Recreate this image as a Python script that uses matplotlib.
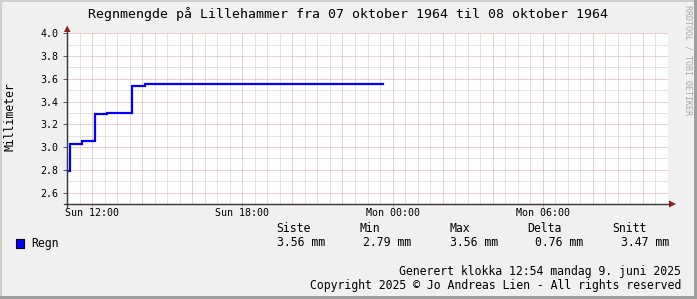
import matplotlib
matplotlib.use("Agg")
import matplotlib.pyplot as plt
from matplotlib.patches import Rectangle, Polygon
import numpy as np

# ---- data ----
times_h = [11.0, 11.1, 11.6, 12.1, 12.6, 13.6, 14.1, 23.6]   # hours after Sun 00:00
rain_mm = [2.79, 3.03, 3.05, 3.29, 3.30, 3.54, 3.555, 3.555]
xtick_hours = [12, 18, 24, 30]
xtick_labels = ["Sun 12:00", "Sun 18:00", "Mon 00:00", "Mon 06:00"]
ytick_values = [2.6, 2.8, 3.0, 3.2, 3.4, 3.6, 3.8, 4.0]
legend_headers = ["Siste", "Min", "Max", "Delta", "Snitt"]
legend_values = ["3.56 mm", "2.79 mm", "3.56 mm", "0.76 mm", "3.47 mm"]
title = "Regnmengde på Lillehammer fra 07 oktober 1964 til 08 oktober 1964"
footer1 = "Generert klokka 12:54 mandag 9. juni 2025"
footer2 = "Copyright 2025 © Jo Andreas Lien - All rights reserved"

W, H = 697, 299
fig = plt.figure(figsize=(W / 100, H / 100), dpi=100)
fig.patch.set_facecolor("#f0f0f0")
MONO = "DejaVu Sans Mono"

def fx(x):
    return x / W

def fy(y):
    return 1 - y / H

# borders
fig.patches.append(Rectangle((fx(0), fy(2)), 1, 2 / H, transform=fig.transFigure,
                             facecolor="#cfcfcf", edgecolor="none"))
fig.patches.append(Rectangle((fx(0), fy(H)), 2 / W, 1, transform=fig.transFigure,
                             facecolor="#cfcfcf", edgecolor="none"))
fig.patches.append(Rectangle((fx(W - 3), fy(H)), 3 / W, 1, transform=fig.transFigure,
                             facecolor="#9e9e9e", edgecolor="none"))
fig.patches.append(Rectangle((fx(0), fy(H)), 1, 3 / H, transform=fig.transFigure,
                             facecolor="#9e9e9e", edgecolor="none"))

L, R, T, B = 67, 668, 33.3, 204
ax = fig.add_axes([fx(L), fy(B), (R - L) / W, (B - T) / H])
ax.set_facecolor("white")
ax.set_xlim(11, 35)
ax.set_ylim(2.5, 4.0)

# grid
grey = "#c8c8c8"
red = "#e29c9c"
dot = (0, (1, 1))
for h in np.arange(11.5, 35, 0.5):
    if abs(h % 2) < 1e-9:
        continue
    ax.axvline(h, color=grey, lw=0.72, ls=dot, zorder=1)
for h in np.arange(12, 35, 2):
    ax.axvline(h, color=red, lw=0.72, ls=dot, zorder=1.1)
for v in np.arange(2.6, 4.01, 0.1):
    major = abs(round(v * 10) % 2) == 0
    ax.axhline(v, color=red if major else grey, lw=0.72, ls=dot,
               zorder=1.1 if major else 1)

ax.step(times_h, rain_mm, where="post", color="#0000ff", lw=1.6, zorder=3,
        solid_joinstyle="miter")

for s in ["top", "right"]:
    ax.spines[s].set_visible(False)
for s in ["left", "bottom"]:
    ax.spines[s].set_color("#3a3a3a")
    ax.spines[s].set_linewidth(0.9)
ax.spines["left"].set_zorder(4)
ax.spines["bottom"].set_zorder(4)

ax.set_xticks(xtick_hours)
ax.set_xticklabels(xtick_labels, fontfamily=MONO, fontsize=7.2)
ax.set_yticks(ytick_values)
ax.set_yticklabels([f"{v:.1f}" for v in ytick_values], fontfamily=MONO, fontsize=7.2)
ax.tick_params(axis="x", length=2.2, width=0.7, color=red, pad=0.8)
ax.tick_params(axis="y", length=3, width=0.7, color="#555555", pad=3)

# arrows
fig.patches.append(Polygon([(fx(64), fy(32)), (fx(70.5), fy(32)), (fx(67.2), fy(25.5))],
                           closed=True, transform=fig.transFigure,
                           facecolor="#901c1c", edgecolor="none", zorder=5))
fig.patches.append(Polygon([(fx(669), fy(200.5)), (fx(669), fy(207.5)), (fx(676), fy(204))],
                           closed=True, transform=fig.transFigure,
                           facecolor="#901c1c", edgecolor="none", zorder=5))
fig.lines.append(plt.Line2D([fx(64), fx(670)], [fy(204), fy(204)], transform=fig.transFigure,
                            color="#3a3a3a", lw=0.9, zorder=4))
fig.lines.append(plt.Line2D([fx(67), fx(67)], [fy(207), fy(30)], transform=fig.transFigure,
                            color="#3a3a3a", lw=0.9, zorder=4))

# title & labels
fig.text(fx(348), fy(14), title, ha="center", va="center", fontfamily=MONO, fontsize=9.5)
fig.text(fx(10), fy(117), "Millimeter", ha="center", va="center", rotation=90,
         fontfamily=MONO, fontsize=8.3)
fig.text(fx(688), fy(5), "RRDTOOL / TOBI OETIKER", ha="center", va="top", rotation=-90,
         fontfamily=MONO, fontsize=6.0, color="#a8a8a8")

# legend
fig.patches.append(Rectangle((fx(15.5), fy(247.5)), 8.5 / W, 8.5 / H, transform=fig.transFigure,
                             facecolor="#0000ff", edgecolor="black", lw=0.8))
fig.text(fx(31), fy(243), "Regn", ha="left", va="center", fontfamily=MONO, fontsize=8.3)
header_x = [276, 360, 450, 527, 612]
value_x = [277, 363, 450, 535, 621]
for hx, hd in zip(header_x, legend_headers):
    fig.text(fx(hx), fy(229), hd, ha="left", va="center", fontfamily=MONO, fontsize=8.3)
for vx, vv in zip(value_x, legend_values):
    fig.text(fx(vx), fy(243), vv, ha="left", va="center", fontfamily=MONO, fontsize=8.3)

fig.text(fx(681), fy(271.5), footer1, ha="right", va="center", fontfamily=MONO, fontsize=8.3)
fig.text(fx(681), fy(285), footer2, ha="right", va="center", fontfamily=MONO, fontsize=8.3)

fig.savefig("out.png", dpi=100, facecolor=fig.get_facecolor())
